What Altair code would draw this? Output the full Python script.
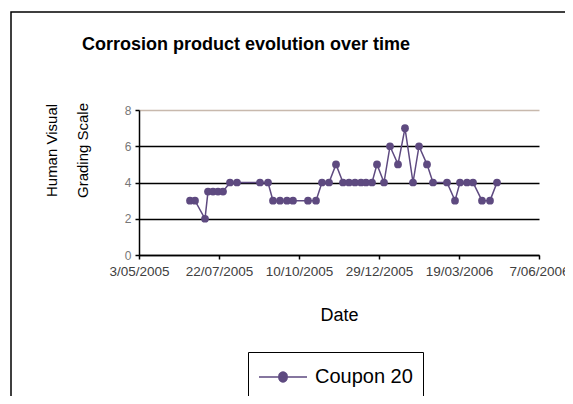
import altair as alt
import pandas as pd

# ---- data ----
dates = [
    "2005-06-23", "2005-06-28", "2005-07-08", "2005-07-11", "2005-07-16",
    "2005-07-21", "2005-07-26", "2005-08-02", "2005-08-09", "2005-09-01",
    "2005-09-09", "2005-09-14", "2005-09-21", "2005-09-28", "2005-10-04",
    "2005-10-19", "2005-10-27", "2005-11-02", "2005-11-09", "2005-11-16",
    "2005-11-23", "2005-11-29", "2005-12-05", "2005-12-11", "2005-12-16",
    "2005-12-22", "2005-12-27", "2006-01-03", "2006-01-09", "2006-01-17",
    "2006-01-24", "2006-02-01", "2006-02-07", "2006-02-15", "2006-02-21",
    "2006-03-07", "2006-03-15", "2006-03-20", "2006-03-27", "2006-04-02",
    "2006-04-11", "2006-04-19", "2006-04-26",
]
values = [
    3, 3, 2, 3.5, 3.5, 3.5, 3.5, 4, 4,
    4, 4, 3, 3, 3, 3, 3, 3,
    4, 4, 5,
    4, 4, 4, 4, 4, 4,
    5, 4, 6, 5, 7, 4, 6, 5, 4,
    4, 3, 4, 4, 4, 3, 3, 4,
]
series_name = "Coupon 20"
x_ticks = [(2005, 5, 3), (2005, 7, 22), (2005, 10, 10), (2005, 12, 29), (2006, 3, 19), (2006, 6, 7)]
y_ticks = [0, 2, 4, 6, 8]
title_text = "Corrosion product evolution over time"
y_title = ["Human Visual", "Grading Scale"]
x_title = "Date"

PURPLE = "#5e4a80"
FONT = "Liberation Sans"

df = pd.DataFrame({"date": dates, "value": values, "series": [series_name] * len(dates)})

def dt(t):
    return alt.DateTime(year=t[0], month=t[1], date=t[2], utc=True)

x_enc = alt.X(
    "date:T",
    scale=alt.Scale(type="utc", domain=[dt(x_ticks[0]), dt(x_ticks[-1])]),
    axis=alt.Axis(
        values=[dt(t) for t in x_ticks],
        labelExpr="utcFormat(datum.value, '%-d/%m/%Y')",
        grid=False,
        labelFlush=False,
        labelOverlap=False,
        labelBound=False,
        labelFont=FONT,
        labelFontSize=13.5,
        labelColor="#404040",
        labelPadding=5,
        tickSize=4,
        tickColor="black",
        tickWidth=1.5,
        domainColor="black",
        domainWidth=1.5,
        title=x_title,
        titleFont=FONT,
        titleFontSize=18,
        titleFontWeight="normal",
        titleColor="black",
        titleX=200,
        titleY=65,
        titleAlign="center",
        titleBaseline="alphabetic",
    ),
)

y_enc = alt.Y(
    "value:Q",
    scale=alt.Scale(domain=[0, 8], nice=False),
    axis=alt.Axis(
        values=y_ticks,
        grid=True,
        gridColor={"condition": {"test": "datum.value === 8", "value": "#c8b9ad"}, "value": "black"},
        gridWidth=1.5,
        labelFont=FONT,
        labelFontSize=12,
        labelColor="#777777",
        labelPadding=4,
        tickSize=4,
        tickColor="black",
        tickWidth=1.5,
        domainColor="black",
        domainWidth=1.5,
        title=y_title,
        titleFont=FONT,
        titleFontSize=15,
        titleFontWeight="normal",
        titleColor="black",
        titleAngle=270,
        titleX=-83,
        titleY=40,
        titleAlign="center",
        titleBaseline="alphabetic",
        titleLineHeight=31,
    ),
)

legend = alt.Legend(
    title=None,
    orient="none",
    legendX=109,
    legendY=242,
    padding=10,
    strokeColor="black",
    fillColor="white",
    labelFont=FONT,
    labelFontSize=20,
    labelColor="black",
    labelOffset=27,
    symbolType="M-1,0H2.43M0.43,0A0.29,0.29 0 1,0 1.0,0A0.29,0.29 0 1,0 0.43,0Z",
    symbolSize=784,
    symbolFillColor=PURPLE,
    symbolStrokeColor=PURPLE,
    symbolStrokeWidth=1.5,
    symbolOpacity=1,
)

color_enc = alt.Color("series:N", scale=alt.Scale(domain=[series_name], range=[PURPLE]), legend=legend)

base = alt.Chart(df)
line = base.mark_line(strokeWidth=1.5).encode(x=x_enc, y=y_enc, color=color_enc)
pts = base.mark_point(filled=True, shape="circle", size=60, opacity=1).encode(x=x_enc, y=y_enc, color=color_enc)

one = pd.DataFrame({"t": [title_text]})
border = alt.Chart(one).mark_rect(fill="white", fillOpacity=0, stroke="black", strokeWidth=1.5).encode(
    x=alt.value(-128), x2=alt.value(600), y=alt.value(-98), y2=alt.value(400)
)
title = alt.Chart(one).mark_text(
    font=FONT, fontSize=18, fontWeight="bold", align="left", baseline="alphabetic", color="black"
).encode(x=alt.value(-57), y=alt.value(-60), text="t:N")

chart = alt.layer(border, title, line, pts).properties(
    width=400,
    height=145,
    padding={"left": 131, "top": 102, "right": 26, "bottom": 141},
    autosize=alt.AutoSizeParams(type="none"),
    background="white",
).configure_view(strokeWidth=0)

chart.save("out.html", embed_options={"renderer": "svg", "actions": False})
